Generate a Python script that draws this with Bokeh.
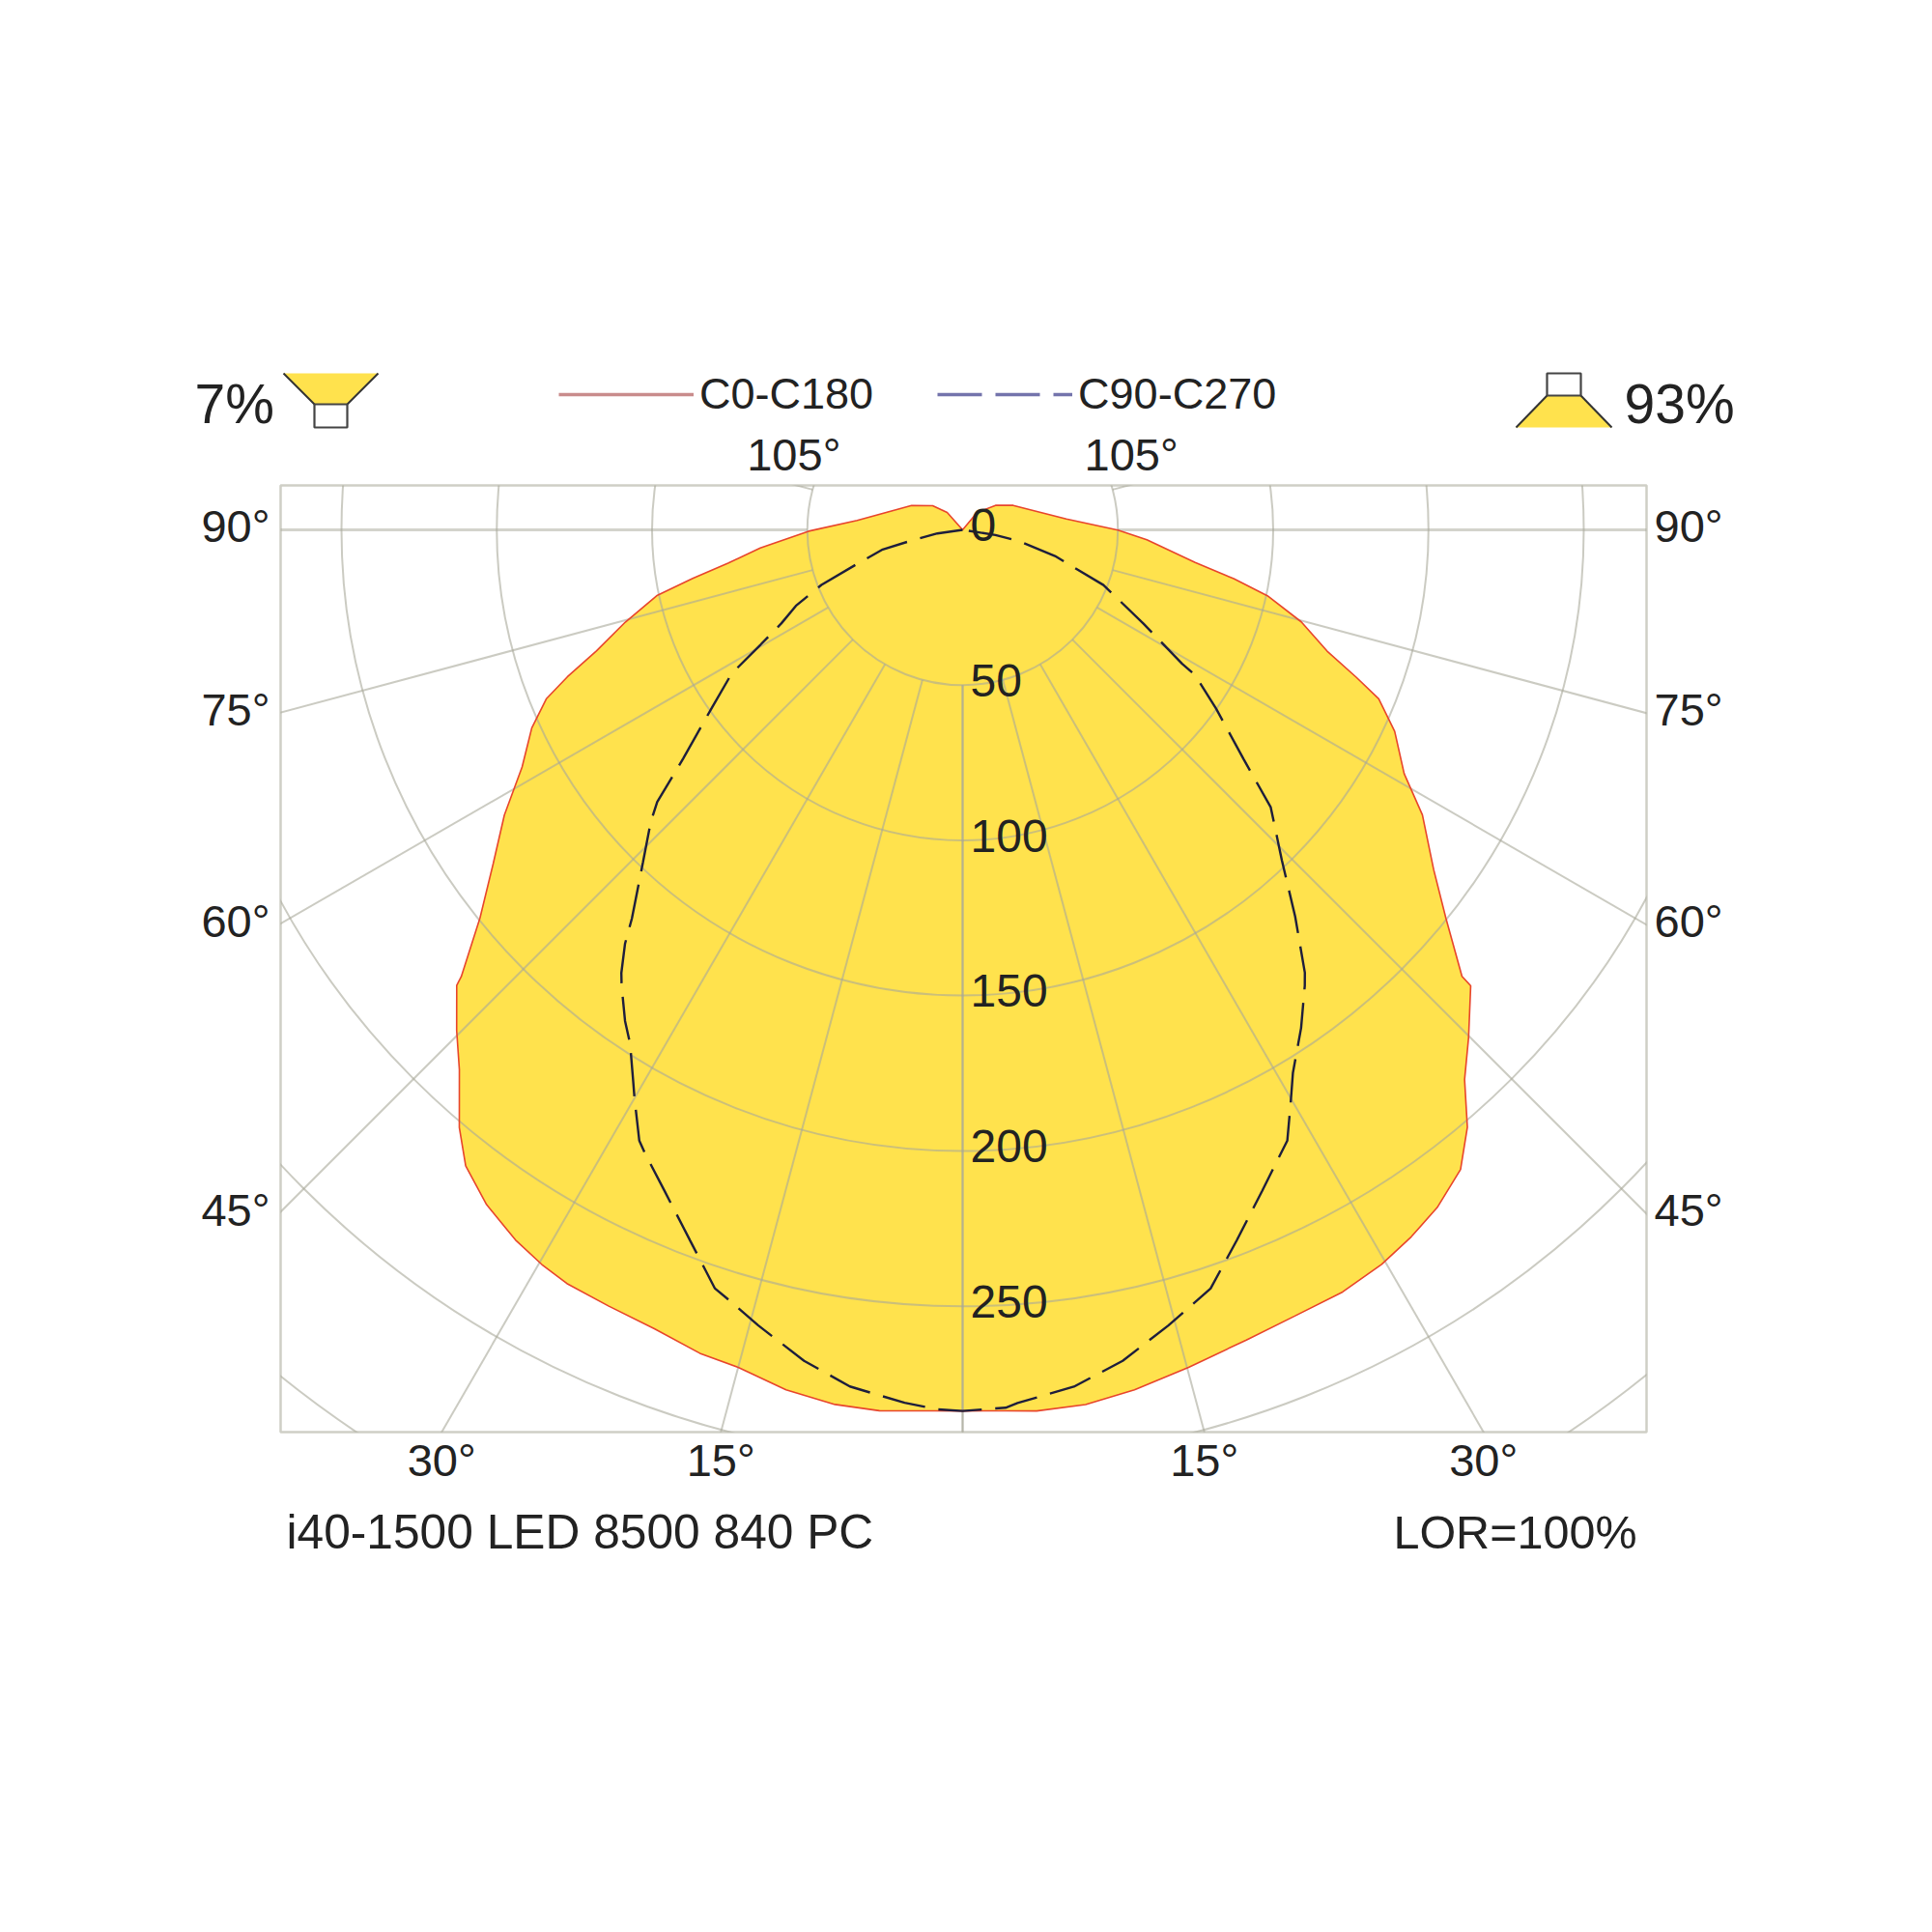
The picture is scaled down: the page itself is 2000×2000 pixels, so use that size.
import numpy as np
from bokeh.plotting import figure
from bokeh.layouts import column
from bokeh.embed import file_html
from bokeh.resources import INLINE
from bokeh.core.properties import value
from bokeh.models import (Range1d, LinearAxis, FixedTicker, Legend, LegendItem, ColumnDataSource)

# C0-C180, left half (gamma in degrees from nadir, luminous intensity in cd/klm)
c0_left_gamma = [180.0,138.4,128.9,115.6,95.1,89.5,84.9,81.9,79.8,77.9,74.7,71.7,69.6,67.9,65.3,61.7,58.1,54.6,51.2,48.3,48.0,45.3,43.0,40.1,38.0,35.2,32.2,29.8,27.7,24.5,21.1,17.7,15.0,11.6,8.3,5.4,1.8,0.0]
c0_left_cd = [0.0,7.5,12.4,18.2,34.1,49.6,65.4,76.3,88.3,100.5,112.6,124.2,135.8,144.7,152.7,161.1,173.8,185.4,199.4,216.2,219.2,229.2,237.6,251.6,259.9,265.9,270.2,272.6,274.1,274.7,275.7,278.3,279.2,282.7,284.6,284.9,283.8,283.7]
# C0-C180, right half
c0_right_gamma = [180.0,140.2,126.7,115.8,96.0,89.9,86.9,82.0,79.8,77.8,74.8,71.6,69.5,67.9,65.0,61.1,58.2,54.2,51.2,48.2,48.1,44.9,42.4,40.2,37.9,35.0,32.4,29.7,26.5,22.9,19.3,15.1,11.3,8.0,4.8,2.8,0.0]
c0_right_cd = [0.0,7.3,13.2,18.1,33.6,50.0,59.4,75.6,88.7,100.4,113.0,123.7,135.2,144.6,153.5,162.4,174.2,187.0,199.7,215.7,219.8,230.8,239.7,251.8,261.0,266.4,269.6,272.3,274.2,274.8,276.4,279.3,282.4,284.4,284.7,284.0,283.7]
# C90-C270
c90_left_gamma = [180.0,81.9,77.9,76.2,72.1,68.7,65.5,62.7,60.4,58.1,54.7,50.7,48.3,46.9,43.9,40.4,39.2,37.6,36.8,34.5,32.9,30.8,30.0,27.9,27.0,24.3,21.0,18.1,16.9,14.4,10.8,7.5,3.8,1.6,0.0]
c90_left_cd = [0.0,8.2,17.8,26.5,35.7,48.8,59.0,65.7,74.8,87.6,98.8,116.3,131.7,137.5,148.4,164.3,172.0,180.1,183.3,191.9,197.1,207.1,211.3,222.5,225.3,233.4,245.0,256.9,259.1,264.5,272.4,278.2,281.7,283.3,283.7]
c90_right_gamma = [180.0,81.1,78.8,74.2,68.6,62.6,58.6,58.0,54.8,50.8,48.0,44.0,40.7,37.7,36.9,34.2,31.3,29.7,28.0,24.4,21.1,18.1,14.5,10.9,7.4,3.6,2.8,0.0]
c90_right_cd = [0.0,10.7,18.2,30.9,48.7,65.6,82.8,88.3,99.9,116.7,133.5,148.0,164.2,180.2,183.5,193.9,204.7,213.1,222.7,233.6,245.2,257.0,264.6,272.5,278.2,281.7,283.0,283.7]

circle_cd = [50, 100, 150, 200, 250, 300, 350]
radial_labels = [0, 50, 100, 150, 200, 250]
spoke_gamma = [0, 15, 30, 45, 60, 75, 90, 105]
side_gamma = [90, 75, 60, 45]
bottom_gamma = [15, 30]
top_gamma = [105]
series_names = ["C0-C180", "C90-C270"]
FONT = "Liberation Sans"
TEXT = "#222222"
GRID = "#A8A89A"
YELLOW = "#FFE24D"

K = 3.215               # px per cd
CX, CY = 996.0, 548.0   # page px of the pole
L, R, T, B = 290, 1704, 502, 1482  # page px of the frame
W = 1984
HEAD, FOOT_TOP, FOOT_BOTTOM = 498, 1550, 1660
xmin, xmax = (L - CX) / K, (R - CX) / K
ymax, ymin = (CY - T) / K, (CY - B) / K


def polar(g, c, side):
    g = np.radians(np.array(g)); c = np.array(c)
    return side * c * np.sin(g), -c * np.cos(g)


# ---------- main polar diagram ----------
p = figure(width=W, height=FOOT_TOP - HEAD, output_backend="svg", toolbar_location=None,
           x_axis_type=None, y_axis_type=None,
           x_range=Range1d(xmin, xmax), y_range=Range1d(ymin, ymax),
           min_border_left=L, min_border_right=W - R,
           min_border_top=T - HEAD, min_border_bottom=FOOT_TOP - B,
           outline_line_color="#CFCFC6", outline_line_width=2.5, frame_align=False)
p.grid.visible = False

xl, yl = polar(c0_left_gamma, c0_left_cd, -1)
xr, yr = polar(c0_right_gamma, c0_right_cd, 1)
xs = np.concatenate([xl, xr[::-1]])
ys = np.concatenate([yl, yr[::-1]])
p.patch(xs, ys, fill_color=YELLOW, line_color=None)

for r in circle_cd:
    p.circle(x=[0], y=[0], radius=r, fill_color=None, line_color=GRID, line_alpha=0.6, line_width=2)
for g in spoke_gamma:
    for s in (-1, 1):
        sx, sy = polar([g, g], [circle_cd[0], 500], s)
        p.line(sx, sy, line_color=GRID, line_alpha=0.5 if g == 90 else 0.6, line_width=3 if g == 90 else 2)

p.line(xs, ys, line_color="#E8452C", line_width=1.6)
dl = polar(c90_left_gamma, c90_left_cd, -1)
dr = polar(c90_right_gamma, c90_right_cd, 1)
p.line(np.concatenate([dl[0], dr[0][::-1]]), np.concatenate([dl[1], dr[1][::-1]]),
       line_color="#1E1E3C", line_width=2.4, line_dash="45 14")

src = ColumnDataSource(dict(x=[0] * len(radial_labels), y=[-c for c in radial_labels],
                            t=[str(c) for c in radial_labels]))
p.text("x", "y", "t", source=src, x_offset=8, y_offset=-5, text_align="left", text_baseline="middle",
       text_font=value(FONT), text_font_size="48px", text_color=TEXT)


def angle_axis(place, ticks, labels, standoff):
    ax = LinearAxis(ticker=FixedTicker(ticks=ticks),
                    major_label_overrides=dict(zip(ticks, labels)),
                    major_tick_in=0, major_tick_out=0, minor_tick_in=0, minor_tick_out=0,
                    axis_line_color=None, major_label_standoff=standoff,
                    major_label_text_font=FONT, major_label_text_font_size="47px",
                    major_label_text_color=TEXT)
    p.add_layout(ax, place)


side_ticks = [round(float((-xmax / np.tan(np.radians(g)) if g != 90 else 0.0) + 1.2), 2) for g in side_gamma]
side_labels = [f"{g}°" for g in side_gamma]
angle_axis("left", side_ticks, side_labels, 11)
angle_axis("right", side_ticks, side_labels, 8)
bot = [round(float(-ymin * np.tan(np.radians(g))), 2) for g in bottom_gamma]
angle_axis("below", [-v for v in bot] + bot, [f"{g}°" for g in bottom_gamma] * 2, 2)

# ---------- header: percentages, luminaire icons, legend, 105° labels ----------
head = figure(width=W, height=HEAD, output_backend="svg", toolbar_location=None,
              x_axis_type=None, y_axis_type=None, x_range=Range1d(0, W), y_range=Range1d(HEAD, 0),
              min_border=0, outline_line_color=None, frame_align=False)
head.grid.visible = False
EDGE = "#333333"
BOX = "#444444"
head.patch([293, 391, 359, 325], [386, 386, 418, 418], fill_color=YELLOW, line_color=None)
head.line([293, 325], [386, 418], line_color=EDGE, line_width=2)
head.line([391, 359], [386, 418], line_color=EDGE, line_width=2)
head.patch([325, 359, 359, 325], [418, 418, 442, 442], fill_color="white", line_color=BOX, line_width=2.2)
head.patch([1601, 1636, 1668, 1569], [409, 409, 442, 442], fill_color=YELLOW, line_color=None)
head.line([1601, 1569], [409, 442], line_color=EDGE, line_width=2)
head.line([1636, 1668], [409, 442], line_color=EDGE, line_width=2)
head.patch([1601, 1636, 1636, 1601], [386, 386, 409, 409], fill_color="white", line_color=BOX, line_width=2.2)
head.text([201, 1681], [417, 417], text=["7%", "93%"], text_align="left", text_baseline="middle",
          text_font=value(FONT), text_font_size="57px", text_color=TEXT)

top = [float(ymax / np.tan(np.radians(g - 90))) for g in top_gamma]
top_x = [CX + s * (K * v + 3) for v in top for s in (-1, 1)]
head.text(top_x, [470] * len(top_x), text=[f"{g}°" for g in top_gamma for _ in (0, 1)],
          text_align="center", text_baseline="middle",
          text_font=value(FONT), text_font_size="47px", text_color=TEXT)

r1 = head.line([-50, -40], [-50, -50], line_color="#C98C8C", line_width=3.5)
r2 = head.line([-50, -40], [-50, -50], line_color="#7474AC", line_width=3.5, line_dash="46 14")
leg = Legend(items=[LegendItem(label=value(series_names[0]), renderers=[r1]),
                    LegendItem(label=value(series_names[1]), renderers=[r2])],
             orientation="horizontal", location=(578, HEAD - 408 - 26),
             spacing=66, padding=0, margin=0, label_standoff=6, glyph_width=140, glyph_height=52,
             label_height=52, label_text_font=FONT, label_text_font_size="45px",
             label_text_color=TEXT, label_text_baseline="middle",
             background_fill_alpha=0, border_line_color=None)
head.add_layout(leg, "center")

# ---------- footer texts ----------
foot = figure(width=W, height=FOOT_BOTTOM - FOOT_TOP, output_backend="svg", toolbar_location=None,
              x_axis_type=None, y_axis_type=None, x_range=Range1d(0, W),
              y_range=Range1d(FOOT_BOTTOM, FOOT_TOP), min_border=0, outline_line_color=None,
              frame_align=False)
foot.grid.visible = False
foot.text([296], [1585], text=["i40-1500 LED 8500 840 PC"], text_align="left", text_baseline="middle",
          text_font=value(FONT), text_font_size="49.7px", text_color=TEXT)
foot.text([1694], [1585], text=["LOR=100%"], text_align="right", text_baseline="middle",
          text_font=value(FONT), text_font_size="48.5px", text_color=TEXT)

open("out.html", "w").write(file_html(column(head, p, foot, spacing=0), INLINE))
